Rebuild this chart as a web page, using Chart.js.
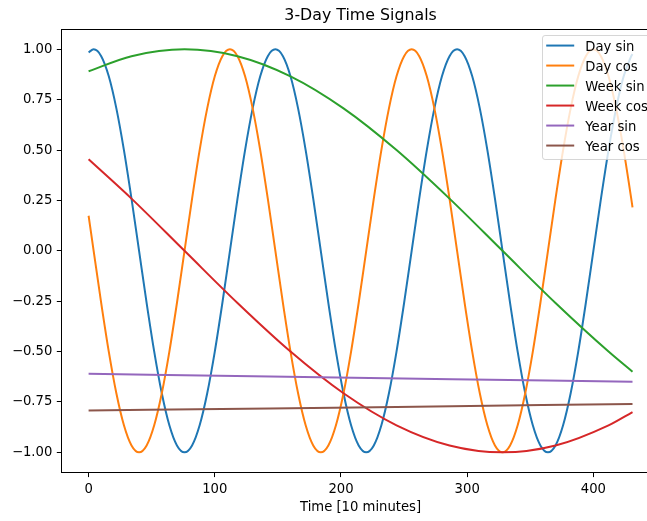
<!DOCTYPE html>
<html>
<head>
<meta charset="utf-8">
<title>3-Day Time Signals</title>
<script src="https://cdn.jsdelivr.net/npm/chart.js@4.4.1/dist/chart.umd.min.js"></script>
<style>
  html, body { margin: 0; padding: 0; background: #fff; overflow: hidden; }
  #wrap { width: 700px; height: 521px; }
</style>
</head>
<body>
<div id="wrap"><canvas id="chart" width="700" height="521"></canvas></div>
<script>
// Series names and colours (tab10 palette)
const seriesNames = ['Day sin', 'Day cos', 'Week sin', 'Week cos', 'Year sin', 'Year cos'];
const seriesColors = ['#1f77b4', '#ff7f0e', '#2ca02c', '#d62728', '#9467bd', '#8c564b'];

// Daily signal, sampled every hour (6 steps of 10 minutes)
const dayX = [0,
  4, 10, 16, 22, 28, 34, 40, 46, 52, 58, 64, 70, 76, 82, 88, 94, 100, 106, 112, 118, 124, 130, 136, 142,
  148, 154, 160, 166, 172, 178, 184, 190, 196, 202, 208, 214, 220, 226, 232, 238, 244, 250, 256, 262, 268, 274, 280, 286,
  292, 298, 304, 310, 316, 322, 328, 334, 340, 346, 352, 358, 364, 370, 376, 382, 388, 394, 400, 406, 412, 418, 424, 430,
  431];
const daySin = [0.985,
  1, 0.966, 0.866, 0.707, 0.5, 0.259, 0, -0.259, -0.5, -0.707, -0.866, -0.966, -1, -0.966, -0.866, -0.707, -0.5, -0.259, 0, 0.259, 0.5, 0.707, 0.866, 0.966,
  1, 0.966, 0.866, 0.707, 0.5, 0.259, 0, -0.259, -0.5, -0.707, -0.866, -0.966, -1, -0.966, -0.866, -0.707, -0.5, -0.259, 0, 0.259, 0.5, 0.707, 0.866, 0.966,
  1, 0.966, 0.866, 0.707, 0.5, 0.259, 0, -0.259, -0.5, -0.707, -0.866, -0.966, -1, -0.966, -0.866, -0.707, -0.5, -0.259, 0, 0.259, 0.5, 0.707, 0.866, 0.966,
  0.976];
const dayCos = [0.174,
  0, -0.259, -0.5, -0.707, -0.866, -0.966, -1, -0.966, -0.866, -0.707, -0.5, -0.259, 0, 0.259, 0.5, 0.707, 0.866, 0.966, 1, 0.966, 0.866, 0.707, 0.5, 0.259,
  0, -0.259, -0.5, -0.707, -0.866, -0.966, -1, -0.966, -0.866, -0.707, -0.5, -0.259, 0, 0.259, 0.5, 0.707, 0.866, 0.966, 1, 0.966, 0.866, 0.707, 0.5, 0.259,
  0, -0.259, -0.5, -0.707, -0.866, -0.966, -1, -0.966, -0.866, -0.707, -0.5, -0.259, 0, 0.259, 0.5, 0.707, 0.866, 0.966, 1, 0.966, 0.866, 0.707, 0.5, 0.259,
  0.216];

// Weekly signal
const weekX = [0, 34, 76, 118, 160, 202, 244, 286, 328, 370, 412, 431];
const weekSin = [0.891, 0.966, 1, 0.966, 0.866, 0.707, 0.5, 0.259, 0, -0.259, -0.5, -0.600];
const weekCos = [0.454, 0.259, 0, -0.259, -0.5, -0.707, -0.866, -0.966, -1, -0.966, -0.866, -0.800];

// Yearly signal (almost flat over three days)
const yearX = [0, 144, 288, 431];
const yearSin = [-0.610, -0.624, -0.637, -0.650];
const yearCos = [-0.792, -0.782, -0.771, -0.760];

// Axis ticks
const xTicks = [0, 100, 200, 300, 400];
const yTicks = [-1, -0.75, -0.5, -0.25, 0, 0.25, 0.5, 0.75, 1];

const FONT = 'DejaVu Sans';
const FS = 13.2;

const pairs = (xs, ys) => xs.map((x, i) => ({ x: x, y: ys[i] }));
const seriesData = [
  pairs(dayX, daySin), pairs(dayX, dayCos),
  pairs(weekX, weekSin), pairs(weekX, weekCos),
  pairs(yearX, yearSin), pairs(yearX, yearCos)
];

const fmtY = v => {
  const s = Math.abs(v).toFixed(2);
  return v < 0 ? '\u2212' + s : s;
};

// snap a 1px line to the same pixel the axes use
const snap = p => Math.round(p - 0.5) + 0.5;

// Frame around the plotting area (all four spines)
const spines = {
  id: 'spines',
  afterDatasetsDraw(chart) {
    const { ctx, chartArea: a } = chart;
    ctx.save();
    ctx.strokeStyle = '#000';
    ctx.lineWidth = 1;
    const l = snap(a.left), t = snap(a.top), r = snap(a.right), b = snap(a.bottom);
    ctx.strokeRect(l, t, r - l, b - t);
    ctx.restore();
  }
};

// Boxed legend in the upper-right corner of the plotting area
const legendBox = {
  id: 'legendBox',
  afterDraw(chart) {
    const { ctx, chartArea: a } = chart;
    ctx.save();
    ctx.font = FS + 'px "' + FONT + '"';
    const maxW = Math.max(...seriesNames.map(n => ctx.measureText(n).width));
    const right = a.right - 0.5 * FS;
    const top = a.top + 0.5 * FS;
    const left = right - (42.6 + maxW + 0.4 * FS);
    const rowH = 20;
    const h = 124;
    const L = snap(left), T = snap(top);
    ctx.beginPath();
    ctx.roundRect(L, T, right - L, h, 2.6);
    ctx.fillStyle = 'rgba(255,255,255,0.8)';
    ctx.fill();
    ctx.strokeStyle = 'rgba(204,204,204,0.8)';
    ctx.lineWidth = 1;
    ctx.stroke();
    seriesNames.forEach((name, i) => {
      const y = top + 9.8 + i * rowH;
      ctx.strokeStyle = seriesColors[i];
      ctx.lineWidth = 2;
      ctx.beginPath();
      ctx.moveTo(left + 3.5, y);
      ctx.lineTo(left + 31.5, y);
      ctx.stroke();
      ctx.fillStyle = '#000';
      ctx.textBaseline = 'alphabetic';
      ctx.textAlign = 'left';
      ctx.fillText(name, left + 42.6, y + 5.6);
    });
    ctx.restore();
  }
};

new Chart(document.getElementById('chart'), {
  type: 'line',
  data: {
    datasets: seriesNames.map((name, i) => ({
      label: name,
      data: seriesData[i],
      borderColor: seriesColors[i],
      backgroundColor: seriesColors[i],
      borderWidth: 2,
      pointRadius: 0,
      pointHoverRadius: 0,
      fill: false,
      cubicInterpolationMode: 'monotone',
      order: seriesNames.length - i
    }))
  },
  options: {
    responsive: false,
    animation: false,
    devicePixelRatio: 1,
    layout: { padding: { top: 0, left: 0, right: 40.3, bottom: 0 } },
    plugins: {
      legend: { display: false },
      tooltip: { enabled: false },
      title: {
        display: true,
        text: '3-Day Time Signals',
        color: '#000',
        fullSize: false,
        font: { family: FONT, size: 15.8, weight: 'normal' },
        padding: { top: 6, bottom: 4.2 }
      }
    },
    scales: {
      x: {
        type: 'linear',
        min: -21.55,
        max: 452.55,
        afterFit(s) { s.height = 48.5; },
        afterBuildTicks(s) { s.ticks = xTicks.map(v => ({ value: v })); },
        ticks: {
          color: '#000',
          font: { family: FONT, size: FS },
          padding: 4.6,
          autoSkip: false,
          maxRotation: 0,
          callback: v => String(v)
        },
        grid: { display: true, drawOnChartArea: false, drawTicks: true, tickLength: 4.6, tickColor: '#000', tickWidth: 1 },
        border: { display: true, color: '#000', width: 1 },
        title: {
          display: true,
          text: 'Time [10 minutes]',
          color: '#000',
          font: { family: FONT, size: FS },
          padding: { top: 0, bottom: 6 }
        }
      },
      y: {
        type: 'linear',
        min: -1.1,
        max: 1.1,
        afterFit(s) { s.width = 61.4; },
        afterBuildTicks(s) { s.ticks = yTicks.map(v => ({ value: v })); },
        ticks: {
          color: '#000',
          font: { family: FONT, size: FS },
          padding: 4.5,
          autoSkip: false,
          callback: fmtY
        },
        grid: { display: true, drawOnChartArea: false, drawTicks: true, tickLength: 4.6, tickColor: '#000', tickWidth: 1 },
        border: { display: true, color: '#000', width: 1 }
      }
    }
  },
  plugins: [spines, legendBox]
});
</script>
</body>
</html>
